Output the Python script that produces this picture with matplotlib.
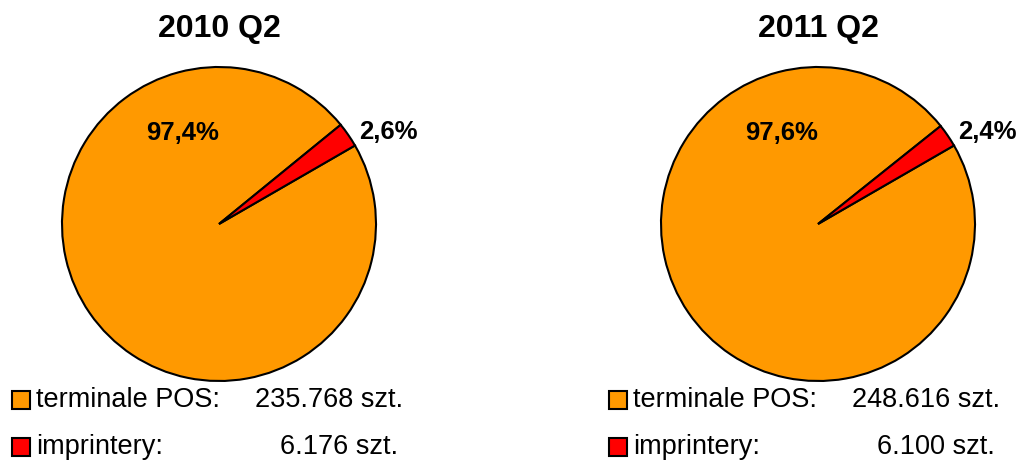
import matplotlib.pyplot as plt
import matplotlib.patches as patches

# dane
titles = ["2010 Q2", "2011 Q2"]
categories = ["terminale POS:", "imprintery:"]
counts_2010 = [235768, 6176]
counts_2011 = [248616, 6100]
colors = ["#FF9900", "#FF0000"]

W, H = 1018, 461
fig = plt.figure(figsize=(W / 100, H / 100), dpi=100)
plt.rcParams['font.family'] = ['Liberation Sans', 'DejaVu Sans']

# tło w pikselach (do tekstów i legendy)
bg = fig.add_axes([0, 0, 1, 1])
bg.set_xlim(0, W)
bg.set_ylim(H, 0)
bg.axis('off')


def fmt_pct(v, total):
    return f"{100 * v / total:.1f}%".replace(".", ",")


def fmt_num(v):
    return f"{v:,}".replace(",", ".") + " szt."


def draw_panel(cx, cy, r, title, counts, leg_x, num_right):
    ax = fig.add_axes([(cx - r) / W, (H - cy - r) / H, 2 * r / W, 2 * r / H])
    ax.pie(counts, colors=colors, startangle=30, counterclock=False,
           wedgeprops=dict(edgecolor='black', linewidth=1.5))
    ax.set_xlim(-1, 1)
    ax.set_ylim(-1, 1)
    ax.set_aspect('auto')

    total = sum(counts)
    # etykiety procentowe
    ax.text(-0.23, 0.58, fmt_pct(counts[0], total), ha='center', va='center',
            fontsize=18.5, fontweight='bold')
    ax.text(0.89, 0.585, fmt_pct(counts[1], total), ha='left', va='center',
            fontsize=18.5, fontweight='bold')

    # tytuł
    bg.text(cx, 29, title, ha='center', va='center', fontsize=23, fontweight='bold')

    # legenda
    for i, (cat, val) in enumerate(zip(categories, counts)):
        y = 400 + i * 47
        bg.add_patch(patches.Rectangle((leg_x, y - 9), 18, 18, facecolor=colors[i],
                                       edgecolor='black', lw=1.5))
        bg.text(leg_x + 24, y, cat, ha='left', va='center', fontsize=19.5)
        bg.text(num_right - (5 if i else 0), y, fmt_num(val), ha='right', va='center',
                fontsize=19.5)


draw_panel(219, 224, 157, titles[0], counts_2010, 12, 403)
draw_panel(818, 224, 157, titles[1], counts_2011, 609, 1000)

fig.savefig("out.png", dpi=100)
